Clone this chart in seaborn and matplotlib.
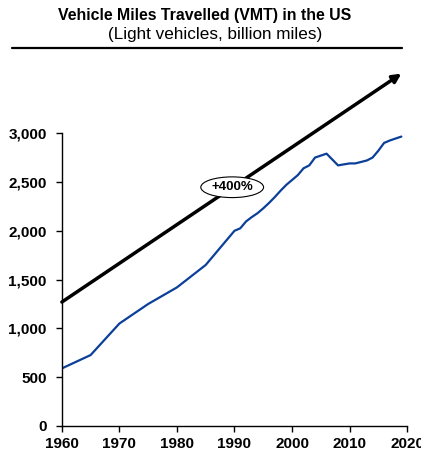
import matplotlib
matplotlib.use("Agg")
import matplotlib.pyplot as plt
import seaborn as sns
import pandas as pd

# Light-vehicle miles travelled in the US, billion miles
years = [1960, 1965, 1970, 1975, 1980, 1985, 1990, 1991, 1992, 1993, 1994,
         1995, 1996, 1997, 1998, 1999, 2000, 2001, 2002, 2003, 2004, 2005,
         2006, 2007, 2008, 2009, 2010, 2011, 2012, 2013, 2014, 2015, 2016,
         2017, 2018, 2019]
vmt = [590, 727, 1050, 1250, 1420, 1650, 2000, 2025, 2095, 2140, 2180,
       2230, 2285, 2345, 2410, 2470, 2520, 2570, 2640, 2670, 2750, 2770,
       2790, 2730, 2670, 2680, 2690, 2690, 2705, 2720, 2750, 2820, 2900,
       2925, 2945, 2965]

# Trend arrow (start / end) and its label
trend_years = [1960, 2019]
trend_values = [1270, 3610]
trend_label = "+400%"
label_pos = (1989.6, 2446)

x_ticks = [1960, 1970, 1980, 1990, 2000, 2010, 2020]
y_ticks = [0, 500, 1000, 1500, 2000, 2500, 3000]

sns.set_style("ticks")
plt.rcParams["font.family"] = ["Liberation Sans", "DejaVu Sans"]
plt.rcParams["text.color"] = "black"
plt.rcParams["xtick.color"] = "black"
plt.rcParams["ytick.color"] = "black"

df = pd.DataFrame({"year": years, "vmt": vmt})

fig = plt.figure(figsize=(4.21, 4.54), dpi=100)
ax = fig.add_axes([0.147, 0.0617, 0.82, 0.645])

sns.lineplot(data=df, x="year", y="vmt", ax=ax, color="#0B3F99", lw=1.6)

ax.set_xlim(1960, 2020)
ax.set_ylim(0, 3000)
ax.set_xticks(x_ticks)
ax.set_yticks(y_ticks)
ax.set_xticklabels([str(t) for t in x_ticks], fontsize=11, fontweight="bold")
ax.set_yticklabels([f"{t:,}" for t in y_ticks], fontsize=11, fontweight="bold")
ax.tick_params(axis="both", direction="out", length=4, width=1,
               color="black", labelcolor="black")
ax.tick_params(axis="y", pad=7)
ax.tick_params(axis="x", pad=4)
ax.set_xlabel("")
ax.set_ylabel("")
for side in ["top", "right"]:
    ax.spines[side].set_visible(False)
for side in ["left", "bottom"]:
    ax.spines[side].set_color("black")
    ax.spines[side].set_linewidth(1)

ax.annotate("", xy=(trend_years[1], trend_values[1]),
            xytext=(trend_years[0], trend_values[0]),
            arrowprops=dict(arrowstyle="-|>,head_length=0.5,head_width=0.25",
                            color="black", lw=2.5, shrinkA=0, shrinkB=0),
            annotation_clip=False)

ax.text(label_pos[0], label_pos[1], trend_label, ha="center", va="center",
        fontsize=9.5, fontweight="bold", color="black",
        bbox=dict(boxstyle="ellipse,pad=0.1", fc="white", ec="black", lw=0.8))

fig.text(205 / 421, 0.965, "Vehicle Miles Travelled (VMT) in the US",
         ha="center", va="center", fontsize=11.4, fontweight="bold")
fig.text(215 / 421, 0.925, "(Light vehicles, billion miles)", ha="center",
         va="center", fontsize=12.3)
fig.add_artist(plt.Line2D([0.028, 0.955], [0.894, 0.894], color="black",
                          lw=1.6, transform=fig.transFigure))

fig.savefig("out.png", dpi=100)
